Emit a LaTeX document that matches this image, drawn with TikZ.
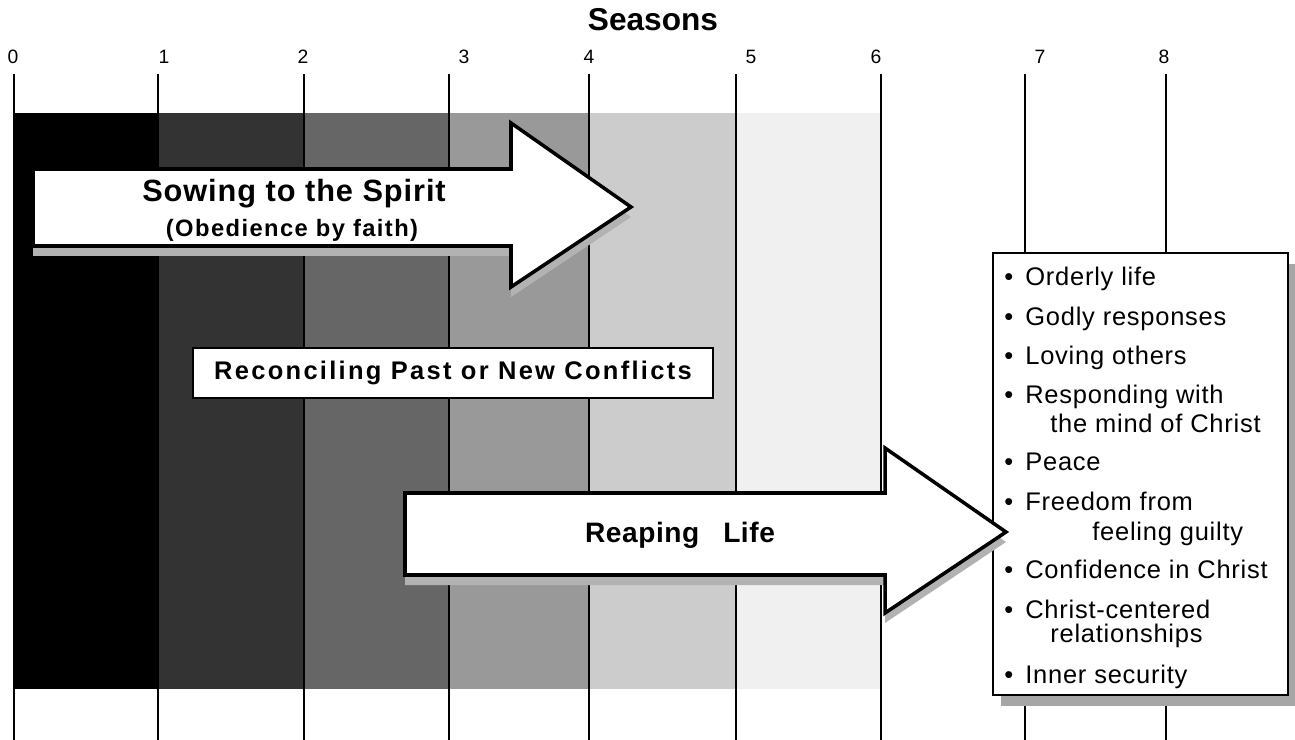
\documentclass[tikz,border=0pt]{standalone}
\usepackage{fontspec}
\setmainfont{Liberation Sans}
\usetikzlibrary{shadows}

\begin{document}
\begin{tikzpicture}[
  x=0.02cm, y=-0.02cm,
  tick/.style={line width=1.5pt},
  num/.style={font=\fontsize{11}{13}\selectfont, anchor=base, inner sep=0},
  heading/.style={font=\fontsize{18}{21}\selectfont\bfseries, anchor=base, inner sep=0},
  bigarrow/.style={draw, line width=2pt, fill=white, line join=miter,
              drop shadow={shadow xshift=0pt, shadow yshift=-0.2cm, opacity=1, fill=black!30}},
  sowtext/.style={font=\fontsize{17.5}{21}\selectfont\bfseries\addfontfeature{LetterSpace=3},
              anchor=base, inner sep=0},
  subtext/.style={font=\fontsize{13.5}{16}\selectfont\bfseries\addfontfeature{LetterSpace=6},
              anchor=base, inner sep=0},
  reaptext/.style={font=\fontsize{16}{19}\selectfont\bfseries\addfontfeature{LetterSpace=2},
              anchor=base, inner sep=0},
  conflict/.style={draw, line width=1.6pt, fill=white, minimum width=10.4cm, minimum height=1cm,
              inner sep=0, font=\fontsize{14.5}{17}\selectfont\bfseries\addfontfeature{LetterSpace=9}},
  listbox/.style={draw, line width=1.3pt, fill=white, minimum width=5.9cm, minimum height=8.84cm,
              drop shadow={shadow xshift=0.16cm, shadow yshift=-0.22cm, opacity=1, fill=black!35}},
  item/.style={font=\fontsize{14.5}{17}\selectfont\addfontfeature{LetterSpace=3},
              anchor=base west, inner sep=0}
]
\useasboundingbox (0,0) rectangle (1295,740);

% shaded seasons
\foreach \xa/\xb/\k in {14/158/100, 158/304/80, 304/449/60, 449/589/40, 589/736/20, 736/881/6}
  \fill[black!\k] (\xa,113) rectangle (\xb,689);
\foreach \x in {14,158,304,449,589,736,881,1025,1166}
  \draw[tick] (\x,74) -- (\x,740);
\foreach \lx [count=\i from 0] in {13,164,303,464,589,751,876,1040,1164}
  \node[num] (n\i) at (\lx,64) {\i};
\node[heading] (seasons) at (653,31) {Seasons};

% sowing
\draw[bigarrow] (33,169) -- (511,169) -- (511,123) -- (631,207) -- (511,287) -- (511,246)
  -- (33,246) -- cycle;
\node[sowtext] (sow) at (294,201) {Sowing to the Spirit};
\node[subtext] (obey) at (292,236) {(Obedience by faith)};

\node[conflict] (recon) at (453,373) {Reconciling Past or New Conflicts};

% results
\node[listbox] (list) at (1140.5,474) {};
\foreach \y/\txt [count=\i] in {285/Orderly life, 325/Godly responses, 364/Loving others,
    403/Responding with, 470/Peace, 510/Freedom from, 578/Confidence in Christ,
    618/Christ-centered, 683/Inner security} {
  \node[item] (dot\i) at (1004,\y) {\textbullet};
  \node[item] (item\i) at (1025,\y) {\txt};
}
\foreach \x/\y/\txt [count=\i] in {1050/432/the mind of Christ, 1092/540/feeling guilty,
    1050/642/relationships}
  \node[item] (more\i) at (\x,\y) {\txt};

% reaping
\draw[bigarrow] (405,493) -- (885,493) -- (885,448) -- (1006,532) -- (885,613) -- (885,575)
  -- (405,575) -- cycle;
\node[reaptext] (reap) at (680,542) {Reaping\hspace{0.85em}Life};
\end{tikzpicture}
\end{document}
